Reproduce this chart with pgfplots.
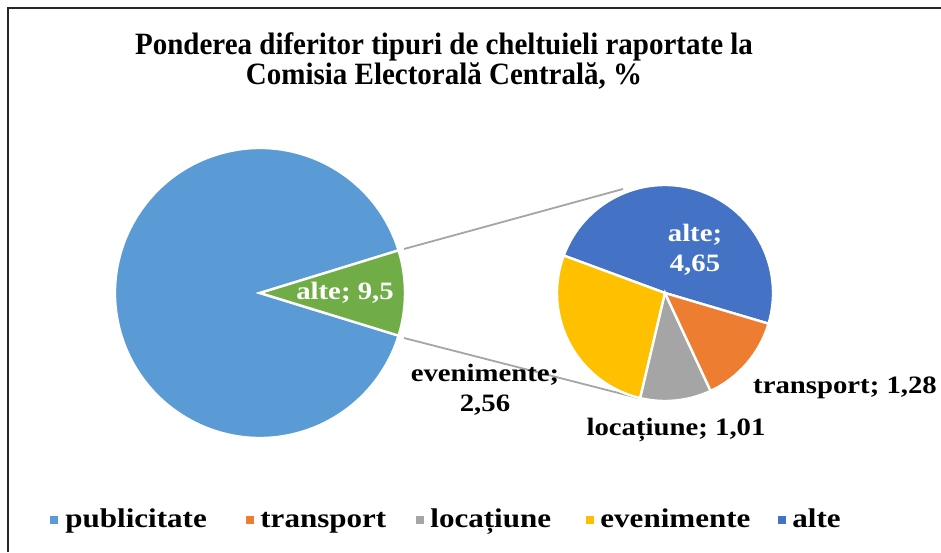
\documentclass[border=0pt]{standalone}
\usepackage{pgfplots}
\pgfplotsset{compat=1.18}
\usepackage{fontspec}
\setmainfont{Liberation Serif}
\newfontfamily\labfont{Liberation Serif}[FakeStretch=1.15]
\newfontfamily\ttlfont{Liberation Serif}[FakeStretch=0.935]

\definecolor{cPub}{HTML}{5B9BD5}
\definecolor{cTrans}{HTML}{ED7D31}
\definecolor{cLoc}{HTML}{A5A5A5}
\definecolor{cEven}{HTML}{FFC000}
\definecolor{cAlte}{HTML}{4472C4}
\definecolor{cGreen}{HTML}{70AD47}

% values (%)
\def\vPub{90.5}
\def\vRest{9.5}
\def\vEven{2.56}
\def\vLoc{1.01}
\def\vTrans{1.28}
\def\vAlt{4.65}

% angles
\pgfmathsetmacro{\hA}{\vRest*3.6/2}
\pgfmathsetmacro{\hB}{360-\hA}
\pgfmathsetmacro{\hC}{-\hA}
\pgfmathsetmacro{\tot}{\vEven+\vLoc+\vTrans+\vAlt}
\pgfmathsetmacro{\aS}{-16.5}
\pgfmathsetmacro{\aA}{\aS+\vAlt/\tot*360}
\pgfmathsetmacro{\aE}{\aA+\vEven/\tot*360}
\pgfmathsetmacro{\aL}{\aE+\vLoc/\tot*360}
\pgfmathsetmacro{\aT}{\aL+\vTrans/\tot*360}

\begin{document}
\begin{tikzpicture}
\begin{axis}[
  width=470.5pt, height=276pt, scale only axis,
  xmin=0, xmax=941, ymin=0, ymax=552,
  axis lines=none, clip=false, disabledatascaling,
]
% main pie
\fill[cPub, draw=white, line width=1.2pt] (axis cs:260,259) -- ++(\hA:72.5pt)
  arc[start angle=\hA, end angle=\hB, radius=72.5pt] -- cycle;
\fill[cGreen, draw=white, line width=1.2pt] (axis cs:260,259) -- ++(\hC:72.5pt)
  arc[start angle=\hC, end angle=\hA, radius=72.5pt] -- cycle;

% connectors
\draw[cLoc, line width=0.9pt] (axis cs:404,303) -- (axis cs:623,363);
\draw[cLoc, line width=0.9pt] (axis cs:404,214) -- (axis cs:638,154);

% secondary pie
\fill[cAlte, draw=white, line width=1.2pt] (axis cs:665,259) -- ++(\aS:54pt)
  arc[start angle=\aS, end angle=\aA, radius=54pt] -- cycle;
\fill[cEven, draw=white, line width=1.2pt] (axis cs:665,259) -- ++(\aA:54pt)
  arc[start angle=\aA, end angle=\aE, radius=54pt] -- cycle;
\fill[cLoc, draw=white, line width=1.2pt] (axis cs:665,259) -- ++(\aE:54pt)
  arc[start angle=\aE, end angle=\aL, radius=54pt] -- cycle;
\fill[cTrans, draw=white, line width=1.2pt] (axis cs:665,259) -- ++(\aL:54pt)
  arc[start angle=\aL, end angle=\aT, radius=54pt] -- cycle;

% labels
\node[white, font=\labfont\bfseries\fontsize{12.5}{15}\selectfont] at (axis cs:345,259) {alte; 9,5};
\node[align=center, font=\labfont\bfseries\fontsize{12.5}{15}\selectfont] at (axis cs:485,162) {evenimente;\\2,56};
\node[white, align=center, font=\labfont\bfseries\fontsize{12.5}{15}\selectfont] at (axis cs:695,302) {alte;\\4,65};
\node[font=\labfont\bfseries\fontsize{12.5}{15}\selectfont] at (axis cs:845,164) {transport; 1,28};
\node[font=\labfont\bfseries\fontsize{12.5}{15}\selectfont] at (axis cs:676,122) {locațiune; 1,01};

% title
\node[font=\ttlfont\bfseries\fontsize{15.5}{15}\selectfont, align=center] at (axis cs:444,491)
  {Ponderea diferitor tipuri de cheltuieli raportate la\\Comisia Electorală Centrală, \%};

% legend
\fill[cPub]   (axis cs:50,28) rectangle (axis cs:58,36);
\fill[cTrans] (axis cs:246,28) rectangle (axis cs:254,36);
\fill[cLoc]   (axis cs:416,28) rectangle (axis cs:424,36);
\fill[cEven]  (axis cs:586,28) rectangle (axis cs:594,36);
\fill[cAlte]  (axis cs:778,28) rectangle (axis cs:786,36);
\begin{scope}[every node/.style={anchor=base west, inner sep=0pt, font=\labfont\bfseries\fontsize{13.5}{15}\selectfont}]
\node at (axis cs:65,25) {publicitate};
\node at (axis cs:260,25) {transport};
\node at (axis cs:430,25) {locațiune};
\node at (axis cs:600,25) {evenimente};
\node at (axis cs:792,25) {alte};
\end{scope}

% frame
\draw[black!85, line width=1pt] (axis cs:8,0) -- (axis cs:8,544) -- (axis cs:941,544);
\end{axis}
\pgfresetboundingbox
\path[use as bounding box] (0,0) rectangle (470.5pt,276pt);
\end{tikzpicture}
\end{document}
